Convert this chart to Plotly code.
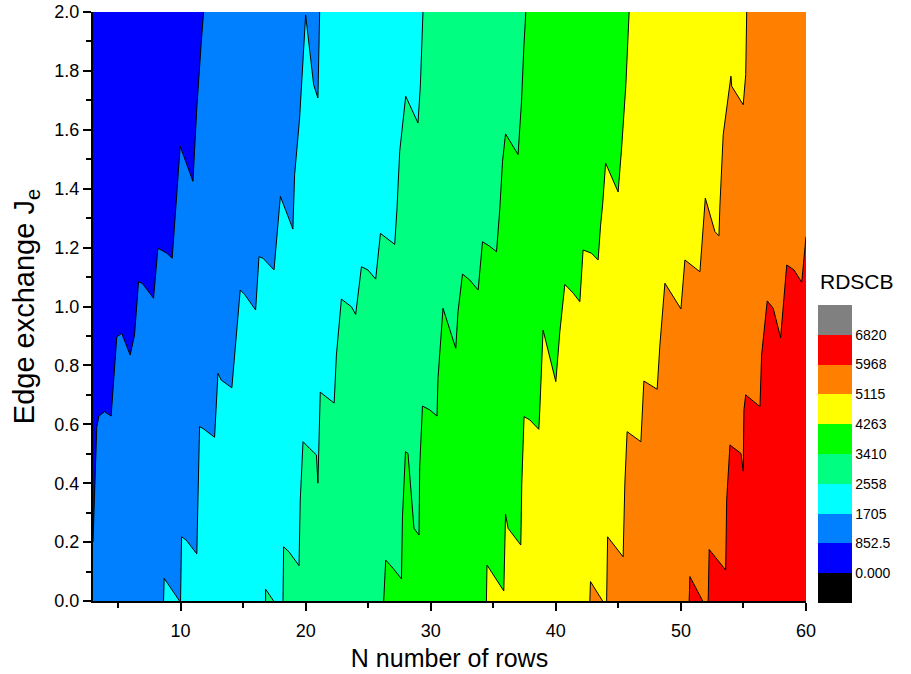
import plotly.graph_objects as go

# ---------------- data ----------------
N_MIN, N_MAX = 3, 60
JE_MIN, JE_MAX = 0.0, 2.0

levels = [0.0, 852.5, 1705, 2558, 3410, 4263, 5115, 5968, 6820]
level_labels = ["0.000", "852.5", "1705", "2558", "3410", "4263", "5115", "5968", "6820"]
band_colors = ["#000000", "#0000FF", "#0080FF", "#00FFFF", "#00FF80",
               "#00FF00", "#FFFF00", "#FF8000", "#FF0000", "#808080"]

x_ticks = [10, 20, 30, 40, 50, 60]
y_ticks = [0.0, 0.2, 0.4, 0.6, 0.8, 1.0, 1.2, 1.4, 1.6, 1.8, 2.0]

# contour line at 852.5
c852_n = [3.0, 3.1, 3.2, 3.3, 3.47, 3.92, 4.45, 4.64, 4.90, 5.30, 5.97, 6.32, 6.64, 6.93,
          7.84, 8.19, 8.9, 9.33, 9.6, 9.97, 10.99, 11.3, 11.66, 11.84]
c852_je = [0.20, 0.34, 0.50, 0.59, 0.628, 0.643, 0.628, 0.756, 0.897, 0.909, 0.835, 0.903,
           1.084, 1.079, 1.028, 1.198, 1.181, 1.164, 1.317, 1.544, 1.425, 1.674, 1.90, 2.0]

# contour line at 1705
c1705_n = [10.0, 10.08, 10.45, 11.3, 11.39, 11.52, 11.79, 12.72, 12.99, 13.25, 14.1, 14.37,
           14.77, 15.12, 16.0, 16.27, 16.59, 17.47, 17.98, 18.98, 19.12, 19.52, 19.79, 20.0,
           20.64, 20.98, 21.12]
c1705_je = [0.0, 0.218, 0.207, 0.16, 0.343, 0.592, 0.586, 0.556, 0.773, 0.75, 0.724, 0.869,
            1.056, 1.041, 0.988, 1.169, 1.164, 1.124, 1.374, 1.263, 1.448, 1.64, 1.844, 1.99,
            1.753, 1.708, 2.0]

# contour line at 2558
c2558_n = [18.19, 18.24, 18.67, 19.47, 19.57, 19.79, 20.32, 20.86, 20.98, 21.1, 21.17, 22.28,
           22.46, 22.86, 23.66, 24.0, 24.46, 24.98, 25.6, 25.98, 27.12, 27.3, 27.52, 28.0,
           28.98, 29.17, 29.38]
c2558_je = [0.0, 0.184, 0.167, 0.12, 0.343, 0.541, 0.518, 0.496, 0.40, 0.68, 0.709, 0.672,
            0.835, 1.025, 0.999, 0.973, 1.135, 1.124, 1.093, 1.248, 1.211, 1.33, 1.527, 1.714,
            1.623, 1.748, 2.0]

# contour line at 3410
c3410_n = [26.24, 26.4, 26.99, 27.66, 27.74, 27.98, 28.18, 28.66, 29.06, 29.12, 29.34, 29.92,
           30.5, 30.58, 30.98, 32.0, 32.18, 32.54, 33.12, 33.79, 34.14, 34.66, 35.26, 35.52,
           35.74, 35.98, 36.98, 37.26, 37.44, 37.6]
c3410_je = [0.0, 0.139, 0.111, 0.075, 0.286, 0.507, 0.501, 0.247, 0.224, 0.456, 0.662, 0.649,
            0.628, 0.756, 0.994, 0.858, 0.982, 1.11, 1.09, 1.056, 1.22, 1.206, 1.186, 1.33,
            1.493, 1.586, 1.516, 1.697, 1.878, 2.0]

# contour line at 4263
c4263_n = [34.45, 34.5, 35.84, 35.92, 35.98, 36.18, 37.2, 37.28, 37.46, 37.92, 38.64, 38.72,
           38.98, 40.0, 40.32, 40.72, 41.4, 41.92, 42.18, 42.85, 43.38, 43.58, 43.74, 43.98,
           44.98, 45.26, 45.6, 45.86]
c4263_je = [0.0, 0.122, 0.034, 0.23, 0.295, 0.247, 0.19, 0.40, 0.626, 0.615, 0.583, 0.649,
            0.92, 0.745, 0.914, 1.075, 1.045, 1.016, 1.192, 1.181, 1.158, 1.277, 1.345, 1.487,
            1.389, 1.538, 1.753, 2.0]

# contour line at 5115
c5115_n = [44.06, 44.14, 45.38, 45.52, 45.7, 46.8, 47.04, 48.1, 48.32, 48.72, 50.0, 50.32,
           51.52, 51.74, 51.95, 52.72, 53.04, 53.12, 53.38, 54.0, 54.06, 54.98, 55.18, 55.26]
c5115_je = [0.0, 0.218, 0.15, 0.40, 0.575, 0.541, 0.747, 0.719, 0.869, 1.079, 0.992, 1.158,
            1.118, 1.232, 1.368, 1.254, 1.24, 1.345, 1.583, 1.782, 1.748, 1.685, 1.787, 2.0]

# contour line at 5968
c5968_n = [52.18, 52.26, 53.58, 53.66, 53.92, 54.8, 54.98, 55.04, 55.18, 56.32, 56.45, 56.9,
           57.38, 57.97, 58.46, 59.04, 59.66, 60.0]
c5968_je = [0.0, 0.175, 0.105, 0.343, 0.53, 0.501, 0.441, 0.65, 0.70, 0.66, 0.835, 1.019,
            0.994, 0.894, 1.141, 1.124, 1.082, 1.237]

# small closed islands touching Je = 0
island_1705_n = [8.64, 8.69, 9.92]
island_1705_je = [0.0, 0.077, 0.0]
island_2558_n = [16.8, 16.8, 17.44]
island_2558_je = [0.0, 0.04, 0.0]
island_5115_n = [42.72, 42.77, 43.74]
island_5115_je = [0.0, 0.066, 0.0]
island_5968_n = [50.66, 50.72, 51.74]
island_5968_je = [0.0, 0.083, 0.0]

contours = [
    (1, c852_n, c852_je),
    (2, c1705_n, c1705_je),
    (3, c2558_n, c2558_je),
    (4, c3410_n, c3410_je),
    (5, c4263_n, c4263_je),
    (6, c5115_n, c5115_je),
    (7, c5968_n, c5968_je),
]
islands = [
    (2, island_1705_n, island_1705_je),
    (3, island_2558_n, island_2558_je),
    (6, island_5115_n, island_5115_je),
    (7, island_5968_n, island_5968_je),
]

FONT = "Arial, 'Liberation Sans', sans-serif"
W, H = 911, 674
ML, MR, MT, MB = 93, 105, 12, 73

fig = go.Figure()

# base band (values between 0 and 852.5)
fig.add_trace(go.Scatter(
    x=[N_MIN, N_MIN, N_MAX, N_MAX, N_MIN], y=[JE_MIN, JE_MAX, JE_MAX, JE_MIN, JE_MIN],
    mode="lines", fill="toself", fillcolor=band_colors[1], line=dict(width=0),
    hoverinfo="skip", showlegend=False))

# region above each contour level = area right of the contour line
for idx, ns, js in contours:
    px, py = [], []
    if js[0] > JE_MIN:
        px.append(N_MIN); py.append(JE_MIN)
    px += ns; py += js
    if js[-1] >= JE_MAX:
        px.append(N_MAX); py.append(JE_MAX)
    px.append(N_MAX); py.append(JE_MIN)
    px.append(px[0]); py.append(py[0])
    fig.add_trace(go.Scatter(x=px, y=py, mode="lines", fill="toself",
                             fillcolor=band_colors[idx + 1], line=dict(width=0),
                             hoverinfo="skip", showlegend=False))

for idx, ns, js in islands:
    fig.add_trace(go.Scatter(x=ns, y=js, mode="lines", fill="toself",
                             fillcolor=band_colors[idx + 1],
                             line=dict(color="black", width=1),
                             hoverinfo="skip", showlegend=False))

# contour lines
for idx, ns, js in contours:
    fig.add_trace(go.Scatter(x=ns, y=js, mode="lines",
                             line=dict(color="black", width=1),
                             hoverinfo="skip", showlegend=False))

# colour scale legend
nb = len(band_colors)
cmin = levels[0] - (levels[1] - levels[0])
cmax = levels[-1] + (levels[1] - levels[0])
cscale = []
for k, c in enumerate(band_colors):
    cscale.append([k / nb, c])
    cscale.append([(k + 1) / nb, c])

plot_w = W - ML - MR
plot_h = H - MT - MB
bar_left = 818
bar_bottom = 603

fig.add_trace(go.Scatter(
    x=[N_MIN], y=[JE_MIN], mode="markers",
    marker=dict(size=1, opacity=0, color=[levels[0]], cmin=cmin, cmax=cmax,
                colorscale=cscale, showscale=True,
                colorbar=dict(
                    tickvals=levels, ticktext=level_labels, ticks="",
                    tickfont=dict(size=14, color="black", family=FONT),
                    thickness=34, thicknessmode="pixels",
                    len=298, lenmode="pixels",
                    x=(bar_left - ML) / plot_w, xanchor="left", xpad=0,
                    y=(H - MB - bar_bottom) / plot_h, yanchor="bottom", ypad=0,
                    outlinewidth=0)),
    hoverinfo="skip", showlegend=False))

fig.add_annotation(text="RDSCB", xref="paper", yref="paper",
                   x=(bar_left - ML) / plot_w, xanchor="left",
                   y=(H - MB - 281) / plot_h, yanchor="middle",
                   showarrow=False, font=dict(size=21, color="black", family=FONT))

fig.update_layout(
    width=W, height=H,
    margin=dict(l=ML, r=MR, t=MT, b=MB, autoexpand=False),
    paper_bgcolor="white", plot_bgcolor="white",
    font=dict(family=FONT, color="black"),
    xaxis=dict(range=[N_MIN, N_MAX], tickvals=x_ticks, showgrid=False, zeroline=False,
               showline=True, linecolor="black", linewidth=2, mirror=False,
               ticks="outside", ticklen=8, tickwidth=2, tickcolor="black",
               tickfont=dict(size=18), automargin=False, ticklabelstandoff=4,
               minor=dict(dtick=5, tick0=0, ticks="outside", ticklen=5, tickwidth=2, tickcolor="black"),
               title=dict(text="N number of rows", font=dict(size=25), standoff=10)),
    yaxis=dict(range=[JE_MIN, JE_MAX], tickvals=y_ticks, tickformat=".1f", showgrid=False,
               zeroline=False, showline=True, linecolor="black", linewidth=2,
               ticks="outside", ticklen=8, tickwidth=2, tickcolor="black",
               tickfont=dict(size=18), automargin=False, ticklabeloverflow="allow",
               minor=dict(dtick=0.1, tick0=0, ticks="outside", ticklen=5, tickwidth=2, tickcolor="black"),
               title=dict(text="Edge exchange J<sub>e</sub>", font=dict(size=29), standoff=11)),
)

# remove the default page margin so the figure sits at the window origin
fig.write_html("out.html", config={"displayModeBar": False},
               post_script="document.body.style.margin='0px';")
